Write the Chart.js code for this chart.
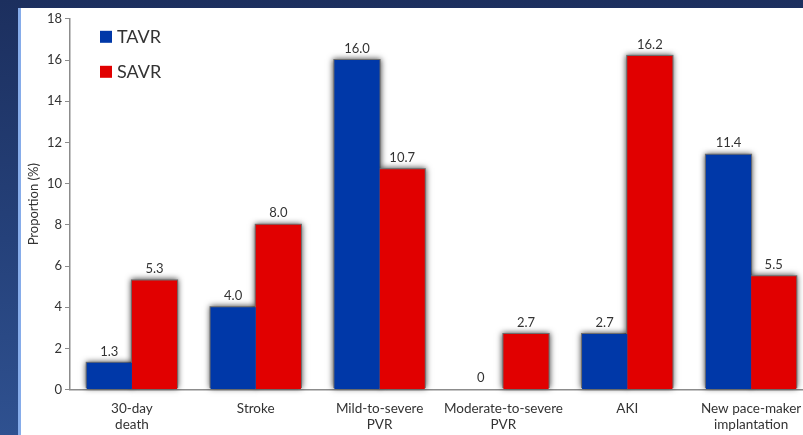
<!DOCTYPE html>
<html>
<head>
<meta charset="utf-8">
<script src="https://cdn.jsdelivr.net/npm/chart.js@4/dist/chart.umd.min.js"></script>
<style>
  html, body { margin: 0; padding: 0; width: 803px; height: 435px; overflow: hidden; }
  body { position: relative; background: linear-gradient(180deg, #1c2f5e 0%, #25417a 55%, #2f5190 100%); }
  #stripe { position: absolute; left: 18px; top: 8px; width: 4px; height: 427px; background: #86acea; }
  #panel { position: absolute; left: 21px; top: 8px; width: 782px; height: 427px; background: #fff; overflow: hidden; }
  #wrap { position: absolute; left: 0; top: 0; width: 830px; height: 436px; }
</style>
</head>
<body>
<div id="stripe"></div>
<div id="panel"><div id="wrap"><canvas id="c"></canvas></div></div>
<script>
const categories = [
  ['30-day', 'death'],
  'Stroke',
  ['Mild-to-severe', 'PVR'],
  ['Moderate-to-severe', 'PVR'],
  'AKI',
  ['New pace-maker', 'implantation']
];
const tavr = [1.3, 4.0, 16.0, 0, 2.7, 11.4];
const savr = [5.3, 8.0, 10.7, 2.7, 16.2, 5.5];
const yTicks = [0, 2, 4, 6, 8, 10, 12, 14, 16, 18];

const FONT = 'Lato, "Open Sans", sans-serif';
const TEXT = '#333333';

// Soft grey shadow painted under every bar before the bars themselves
const barShadow = {
  id: 'barShadow',
  beforeDatasetsDraw(chart) {
    const ctx = chart.ctx;
    ctx.save();
    ctx.shadowColor = 'rgba(0,0,0,0.75)';
    ctx.shadowBlur = 6;
    ctx.fillStyle = 'rgba(110,110,110,1)';
    chart.data.datasets.forEach((ds, i) => {
      chart.getDatasetMeta(i).data.forEach(bar => {
        const h = bar.base - bar.y;
        if (h <= 0.5) return;
        ctx.fillRect(bar.x - bar.width / 2 - 1, bar.y - 1, bar.width + 2, h);
      });
    });
    ctx.restore();
  }
};

// Value labels above each bar
const valueLabels = {
  id: 'valueLabels',
  afterDatasetsDraw(chart) {
    const ctx = chart.ctx;
    ctx.save();
    ctx.font = '13px ' + FONT;
    ctx.fillStyle = TEXT;
    ctx.textAlign = 'center';
    ctx.textBaseline = 'bottom';
    chart.data.datasets.forEach((ds, i) => {
      chart.getDatasetMeta(i).data.forEach((bar, j) => {
        const v = ds.data[j];
        const txt = v === 0 ? '0' : v.toFixed(1);
        ctx.fillText(txt, bar.x, bar.y - 5);
      });
    });
    ctx.restore();
  }
};

// Legend drawn inside the plot, top-left
const innerLegend = {
  id: 'innerLegend',
  afterDraw(chart) {
    const ctx = chart.ctx;
    const a = chart.chartArea;
    ctx.save();
    ctx.font = '18px ' + FONT;
    ctx.textBaseline = 'middle';
    ctx.textAlign = 'left';
    chart.data.datasets.forEach((ds, i) => {
      const y = a.top + 18 + i * 35;
      const x = a.left + 30;
      ctx.fillStyle = ds.backgroundColor;
      ctx.fillRect(x, y - 6, 12, 12);
      ctx.fillStyle = TEXT;
      ctx.fillText(ds.label, x + 17, y);
    });
    ctx.restore();
  }
};

new Chart(document.getElementById('c'), {
  type: 'bar',
  data: {
    labels: categories,
    datasets: [
      { label: 'TAVR', data: tavr, backgroundColor: '#0038a8' },
      { label: 'SAVR', data: savr, backgroundColor: '#e10000' }
    ]
  },
  options: {
    responsive: true,
    maintainAspectRatio: false,
    animation: false,
    events: [],
    layout: { padding: { top: 0, right: 38, left: 0, bottom: 0 } },
    plugins: { legend: { display: false }, tooltip: { enabled: false } },
    datasets: { bar: { categoryPercentage: 0.73, barPercentage: 1.0 } },
    scales: {
      x: {
        grid: { display: false, drawTicks: false },
        border: { color: '#8c8c8c', width: 1.5 },
        ticks: { color: TEXT, font: { family: FONT, size: 13.5, lineHeight: 1.2 }, padding: 11, maxRotation: 0, autoSkip: false }
      },
      y: {
        min: 0, max: 18,
        afterBuildTicks(scale) { scale.ticks = yTicks.map(v => ({ value: v })); },
        afterFit(scale) { scale.width = 49; },
        grid: { display: true, drawOnChartArea: false, drawTicks: true, tickLength: 5, color: '#8c8c8c' },
        border: { color: '#8c8c8c', width: 1.5 },
        ticks: { color: TEXT, font: { family: FONT, size: 13 }, padding: 3 },
        title: { display: true, text: 'Proportion (%)', color: TEXT, font: { family: FONT, size: 13 }, padding: { top: 5, bottom: 0 } }
      }
    }
  },
  plugins: [barShadow, valueLabels, innerLegend]
});
</script>
</body>
</html>
